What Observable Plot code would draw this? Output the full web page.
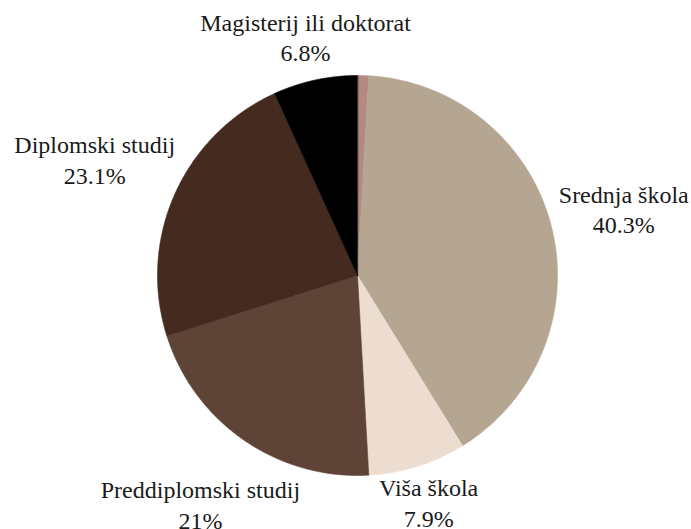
<!DOCTYPE html>
<html><head><meta charset="utf-8">
<script src="https://cdn.jsdelivr.net/npm/d3@7"></script>
<script src="https://cdn.jsdelivr.net/npm/@observablehq/plot@0.6"></script>
<style>body{margin:0;background:#fff}</style></head>
<body><div id="chart"></div>
<script>
const categories = ["Osnovna škola", "Srednja škola", "Viša škola", "Preddiplomski studij", "Diplomski studij", "Magisterij ili doktorat"];
const values = [0.9, 40.3, 7.9, 21, 23.1, 6.8];
const valueLabels = ["", "40.3%", "7.9%", "21%", "23.1%", "6.8%"];
const showLabel = [false, true, true, true, true, true];
const colors = ["#b48a80", "#b5a691", "#eddcd0", "#5d4436", "#452a20", "#000000"];

const R = 200; // pixel radius
const fontSize = 24, lineHeight = 1.27;
const FONT = '"Liberation Serif", "Times New Roman", Times, "DejaVu Serif", serif';
const arcs = d3.pie().sort(null).value(d => d.value)(categories.map((c, i) => ({cat: c, value: values[i], i})));

const pts = [];
for (const a of arcs) {
  pts.push({cat: a.data.cat, x: 0, y: 0});
  const n = Math.max(2, Math.ceil((a.endAngle - a.startAngle) / (Math.PI / 360)));
  for (let k = 0; k <= n; k++) {
    const t = a.startAngle + (a.endAngle - a.startAngle) * k / n;
    pts.push({cat: a.data.cat, x: Math.sin(t), y: Math.cos(t)});
  }
}

const ctx = document.createElement("canvas").getContext("2d");
ctx.font = `${fontSize}px ${FONT}`;
const labelData = arcs.filter(a => showLabel[a.data.i]).map(a => {
  const m = (a.startAngle + a.endAngle) / 2;
  const text = a.data.cat + "\n" + valueLabels[a.data.i];
  const hw = Math.max(ctx.measureText(a.data.cat).width, ctx.measureText(valueLabels[a.data.i]).width) / 2;
  const hh = 15;
  const k = 1.04 + (hw * Math.abs(Math.sin(m)) + hh * Math.abs(Math.cos(m))) / R;
  return {text, x: k * Math.sin(m), y: k * Math.cos(m)};
});

const chart = Plot.plot({
  width: 691,
  height: 529,
  margin: 0,
  style: {fontFamily: FONT, color: "#1a1a1a", background: "#fff"},
  x: {domain: [-1, 1], range: [357 - R, 357 + R], axis: null},
  y: {domain: [-1, 1], range: [275 + R, 275 - R], axis: null},
  color: {domain: categories, range: colors},
  marks: [
    Plot.line(pts, {x: "x", y: "y", z: "cat", fill: "cat", stroke: "cat", strokeWidth: 0.6, curve: "linear-closed"}),
    Plot.text(labelData, {x: "x", y: "y", text: "text", fontSize, lineHeight, fontFamily: FONT, fill: "#1a1a1a"})
  ]
});
document.getElementById("chart").append(chart);
</script>
</body></html>
